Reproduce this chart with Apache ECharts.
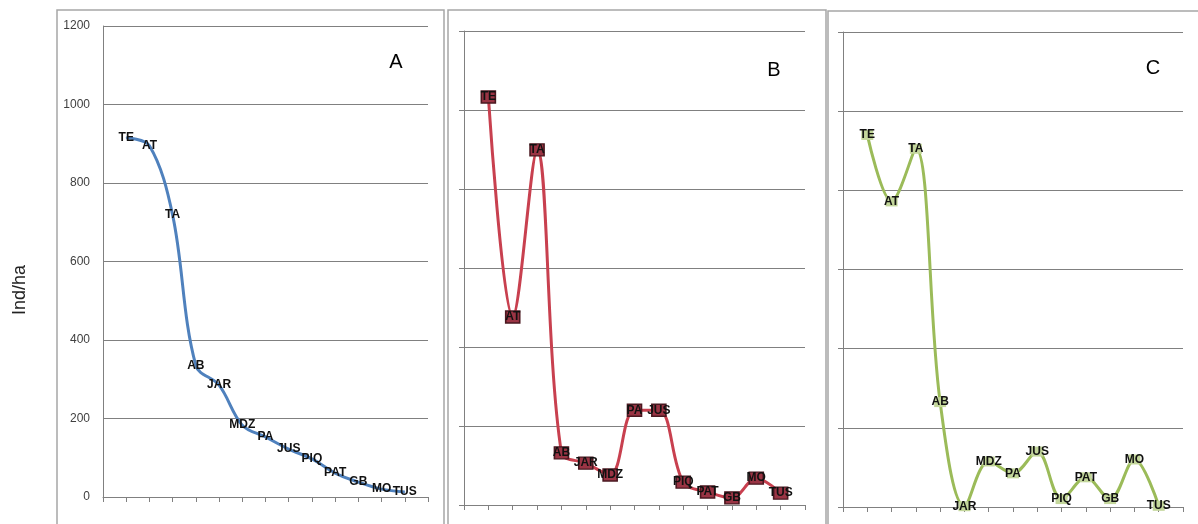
<!DOCTYPE html>
<html>
<head>
<meta charset="utf-8">
<script src="https://cdn.jsdelivr.net/npm/echarts@6/dist/echarts.min.js"></script>
<style>
html,body{margin:0;padding:0;background:#fff;}
#chart{width:1198px;height:524px;}
</style>
</head>
<body>
<div id="chart"></div>
<script>
// Sites (blank slot at each end of the axis, as in the original)
var categories = ['', 'TE', 'AT', 'TA', 'AB', 'JAR', 'MDZ', 'PA', 'JUS', 'PIQ', 'PAT', 'GB', 'MO', 'TUS', ''];
var valuesA = [null, 915, 895, 718, 335, 285, 183, 153, 122, 97, 61, 38, 20, 13, null];
var valuesB = [null, 1033, 476, 899, 132, 106, 76, 240, 240, 58, 33, 18, 68, 30, null];
var valuesC = [null, 940, 772, 905, 265, 2, 115, 85, 140, 20, 75, 20, 120, 3, null];
var yTicks = [0, 200, 400, 600, 800, 1000, 1200];
var panelLetters = ['A', 'B', 'C'];

var chart = echarts.init(document.getElementById('chart'));
var font = "'Liberation Sans', 'DejaVu Sans', sans-serif";
var grids = [
  {left: 103, right: 770, top: 26, bottom: 27},
  {left: 464, right: 393, top: 31, bottom: 19},
  {left: 843, right: 15, top: 32, bottom: 17}
];
function xAx(i) {
  return {
    type: 'category', gridIndex: i, data: categories, boundaryGap: false,
    axisLine: {lineStyle: {color: '#808080', width: 1}},
    axisTick: {show: true, interval: 0, length: 5, lineStyle: {color: '#808080'}},
    axisLabel: {show: false}, splitLine: {show: false}
  };
}
function yAx(i) {
  return {
    type: 'value', gridIndex: i, min: yTicks[0], max: yTicks[yTicks.length - 1], interval: 200,
    axisLine: {show: true, lineStyle: {color: '#808080', width: 1}},
    axisTick: {show: i > 0, length: 5, lineStyle: {color: '#808080'}},
    axisLabel: {show: i === 0, color: '#404040', fontSize: 12, fontFamily: font, margin: 13,
      formatter: function (v) { return String(v); }},
    splitLine: {show: true, lineStyle: {color: '#808080', width: 1}}
  };
}
var labelCommon = {
  show: true, position: 'inside', color: '#111', fontSize: 12, fontWeight: 'bold',
  fontFamily: "'Liberation Sans Narrow', 'Liberation Sans', sans-serif",
  formatter: function (p) { return p.name; }
};
function mkSeries(i, data, color, symbol, symSize, symColor, symBorder) {
  return {
    type: 'line', xAxisIndex: i, yAxisIndex: i, data: data, smooth: 0.35,
    connectNulls: false,
    lineStyle: {color: color, width: 3},
    symbol: symbol, symbolSize: symSize, showSymbol: true,
    itemStyle: {color: symColor, borderColor: symBorder, borderWidth: symBorder ? 1.5 : 0},
    label: labelCommon,
    emphasis: {disabled: true},
    animation: false, z: 3
  };
}
var option = {
  animation: false,
  grid: grids,
  xAxis: [xAx(0), xAx(1), xAx(2)],
  yAxis: [yAx(0), yAx(1), yAx(2)],
  series: [
    mkSeries(0, valuesA, '#4f81bd', 'circle', 1, '#4f81bd', null),
    mkSeries(1, valuesB, '#c8404f', 'rect', [14, 12], '#9a3444', '#4a1820'),
    mkSeries(2, valuesC, '#9bbb59', 'rect', [12, 10], '#c3d69b', null)
  ],
  graphic: [
    {type: 'rect', shape: {x: 57, y: 10, width: 387, height: 530}, style: {fill: 'none', stroke: '#a6a6a6', lineWidth: 1.5}, z: 0},
    {type: 'rect', shape: {x: 448, y: 10, width: 378, height: 530}, style: {fill: 'none', stroke: '#a6a6a6', lineWidth: 1.5}, z: 0},
    {type: 'rect', shape: {x: 828, y: 11, width: 380, height: 530}, style: {fill: 'none', stroke: '#a6a6a6', lineWidth: 1.5}, z: 0},
    {type: 'text', x: 396, y: 62, style: {text: panelLetters[0], font: '20px ' + font, fill: '#000', align: 'center', verticalAlign: 'middle'}},
    {type: 'text', x: 774, y: 70, style: {text: panelLetters[1], font: '20px ' + font, fill: '#000', align: 'center', verticalAlign: 'middle'}},
    {type: 'text', x: 1153, y: 68, style: {text: panelLetters[2], font: '20px ' + font, fill: '#000', align: 'center', verticalAlign: 'middle'}},
    {type: 'text', x: 20, y: 290, rotation: Math.PI / 2, style: {text: 'Ind/ha', font: '18px ' + font, fill: '#222', align: 'center', verticalAlign: 'middle'}}
  ]
};
chart.setOption(option);
</script>
</body>
</html>
